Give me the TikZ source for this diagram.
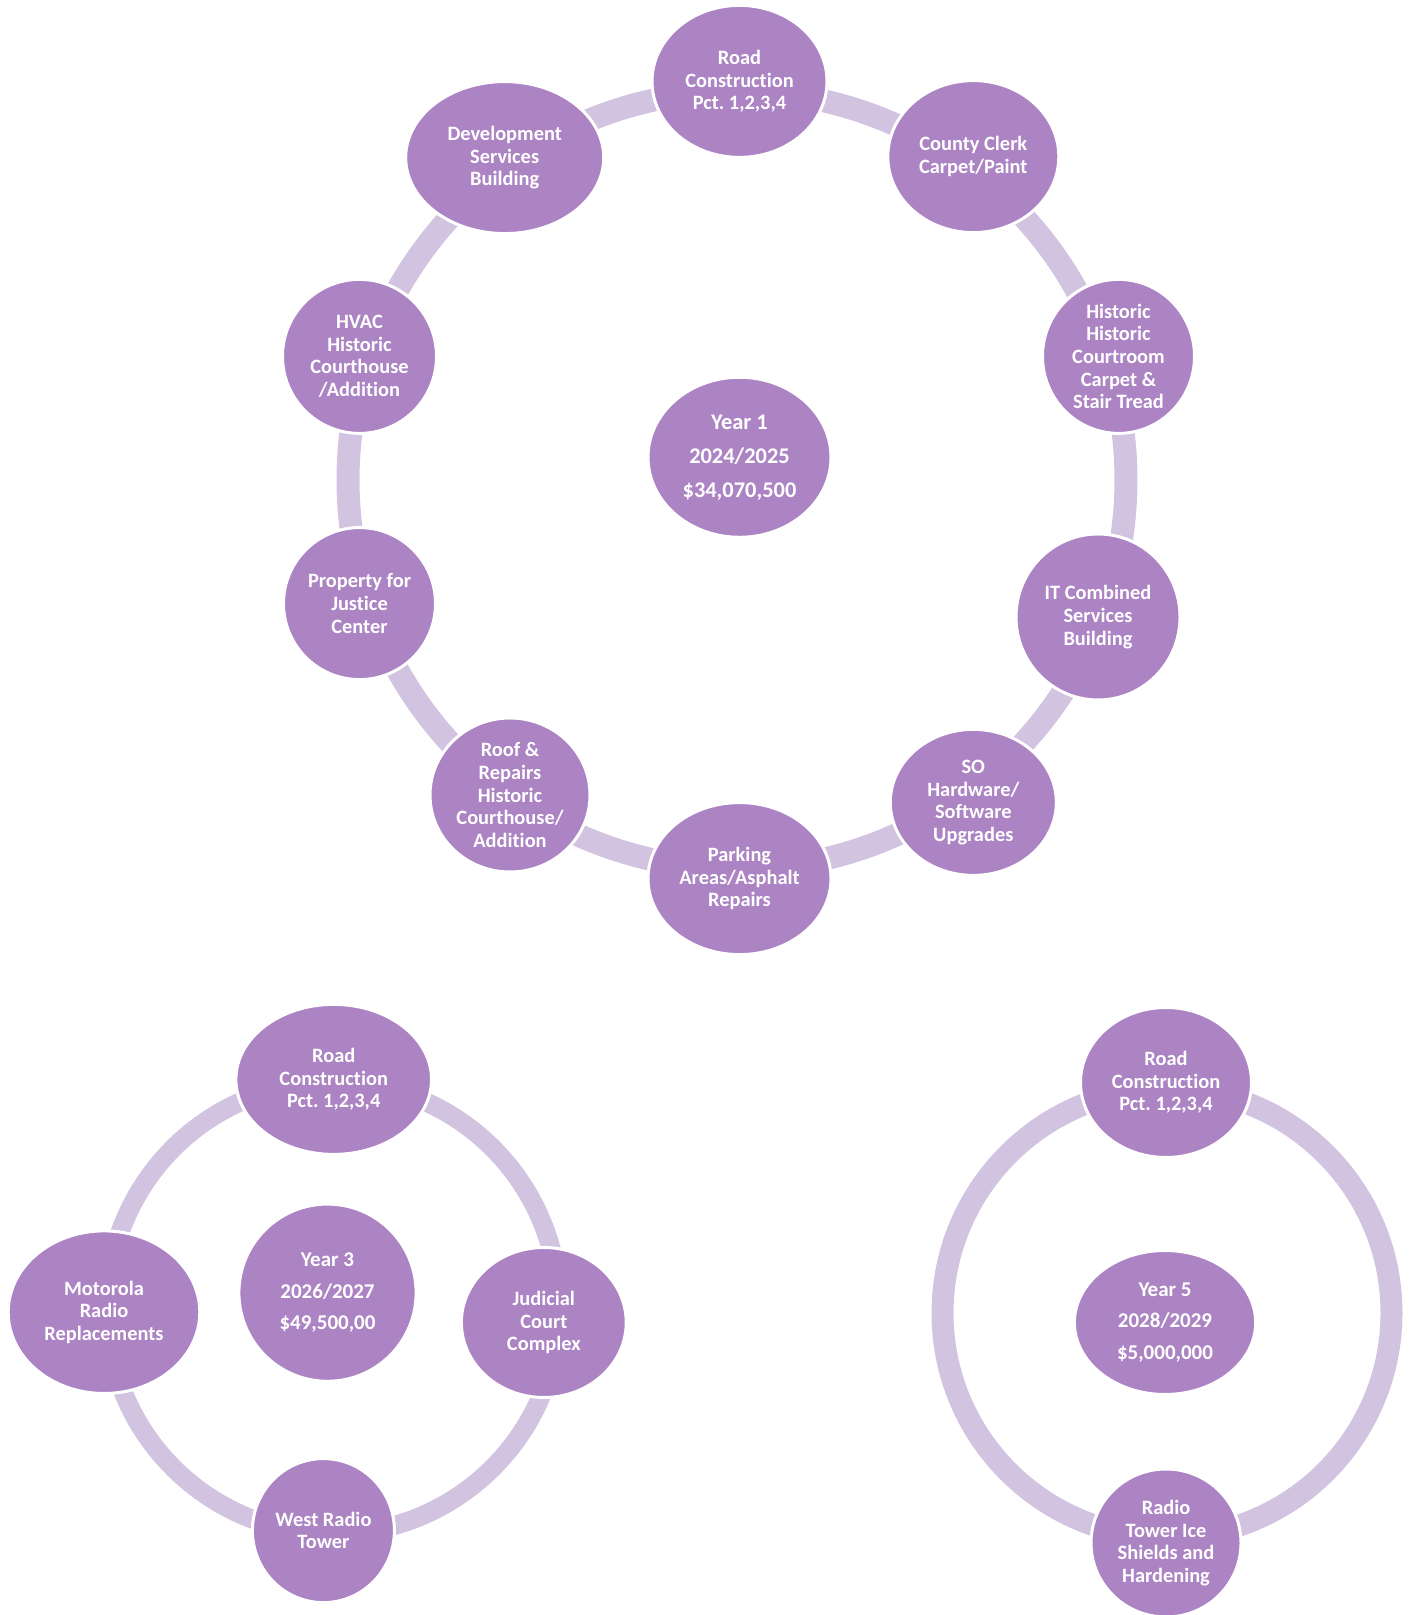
\documentclass[tikz,border=0pt]{standalone}
\usepackage{fontspec}
\setmainfont{Carlito}[Ligatures=NoCommon]
\usetikzlibrary{shapes.geometric,calc,backgrounds}
\definecolor{bubfill}{HTML}{AC84C4}
\definecolor{ringcol}{HTML}{D2C3E0}
\frenchspacing
\newcommand{\ringarc}[5]{%
  \draw[#1] let \p0=(#2), \p1=(#4), \p2=(#5),
    \n1={atan2(\y1-\y0,\x1-\x0)},
    \n2={atan2(\y2-\y0,\x2-\x0)},
    \n3={mod(\n1-\n2+720,360)} in
    ([shift={(\x0,\y0)}]\n1:#3) arc[start angle=\n1, delta angle=-\n3, radius=#3];%
}
\tikzset{
  bub/.style={ellipse, fill=bubfill, draw=white, line width=1.5pt, inner sep=0pt,
    text=white, align=center, font=\bfseries\frenchspacing\fontsize{10.2pt}{11.3pt}\selectfont},
  hubA/.style={bub, font=\bfseries\fontsize{11.2pt}{17pt}\selectfont},
  hubB/.style={bub, font=\bfseries\fontsize{10.5pt}{15.7pt}\selectfont},
  ringA/.style={draw=ringcol, line width=11.5pt},
  ringB/.style={draw=ringcol, line width=9.5pt},
  ringC/.style={draw=ringcol, line width=11pt},
}
\begin{document}
\begin{tikzpicture}[x=0.5pt,y=0.5pt]
\useasboundingbox (0,0) rectangle (1411,1615);
% ---------- Year 1 ----------
\coordinate (o1) at (737,1135);
\node[bub, minimum width=87.5pt, minimum height=76pt] (r1) at (739.5,1533.6) {Road\\Construction\\Pct. 1,2,3,4};
\node[bub, minimum width=85.5pt, minimum height=76pt] (c1) at (973.3,1458.4) {County Clerk\\Carpet/Paint};
\node[bub, minimum width=76pt, minimum height=77pt] (h1) at (1118.5,1258.6) {Historic\\Historic\\Courtroom\\Carpet \&\\Stair Tread};
\node[bub, minimum width=82pt, minimum height=83pt] (i1) at (1098,998) {IT Combined\\Services\\Building};
\node[bub, minimum width=83pt, minimum height=73pt] (s1) at (973.3,812.6) {SO\\Hardware/\\Software\\Upgrades};
\node[bub, minimum width=91.5pt, minimum height=76pt] (p1) at (739.5,736.4) {Parking\\Areas/Asphalt\\Repairs};
\node[bub, minimum width=80pt, minimum height=77pt] (f1) at (510,820) {Roof \&\\Repairs\\Historic\\Courthouse/\\Addition};
\node[bub, minimum width=76pt, minimum height=76pt] (j1) at (359.5,1011.4) {Property for\\Justice\\Center};
\node[bub, minimum width=77pt, minimum height=77pt] (v1) at (359.5,1258.6) {HVAC\\Historic\\Courthouse\\/Addition};
\node[bub, minimum width=99pt, minimum height=76pt] (d1) at (504.7,1457.4) {Development\\Services\\Building};
\node[hubA, minimum width=91.5pt, minimum height=80pt] (y1) at (739.5,1157.7) {Year 1\\2024/2025\\\$34,070,500};
% ---------- Year 3 ----------
\coordinate (o3) at (333,307);
\node[bub, minimum width=97.8pt, minimum height=75pt] (r3) at (333.7,535.6) {Road\\Construction\\Pct. 1,2,3,4};
\node[bub, minimum width=95.8pt, minimum height=81.3pt] (m3) at (104,302.8) {Motorola\\Radio\\Replacements};
\node[hubB, minimum width=88.6pt, minimum height=88.6pt] (y3) at (327.5,322.3) {Year 3\\2026/2027\\\$49,500,00};
\node[bub, minimum width=82.4pt, minimum height=75pt] (j3) at (543.8,292.5) {Judicial\\Court\\Complex};
\node[bub, minimum width=71pt, minimum height=72pt] (w3) at (323.4,84.4) {West Radio\\Tower};
% ---------- Year 5 ----------
\coordinate (o5) at (1167,302);
\node[bub, minimum width=85.5pt, minimum height=75pt] (r5) at (1166,532.5) {Road\\Construction\\Pct. 1,2,3,4};
\node[hubB, minimum width=90.6pt, minimum height=72pt] (y5) at (1165,292.5) {Year 5\\2028/2029\\\$5,000,000};
\node[bub, minimum width=75pt, minimum height=74pt] (t5) at (1166,72) {Radio\\Tower Ice\\Shields and\\Hardening};
% ---------- rings ----------
\begin{pgfonlayer}{background}
\ringarc{ringA}{o1}{194.5pt}{r1}{c1}
\ringarc{ringA}{o1}{194.5pt}{c1}{h1}
\ringarc{ringA}{o1}{194.5pt}{h1}{i1}
\ringarc{ringA}{o1}{194.5pt}{i1}{s1}
\ringarc{ringA}{o1}{194.5pt}{s1}{p1}
\ringarc{ringA}{o1}{194.5pt}{p1}{f1}
\ringarc{ringA}{o1}{194.5pt}{f1}{j1}
\ringarc{ringA}{o1}{194.5pt}{j1}{v1}
\ringarc{ringA}{o1}{194.5pt}{v1}{d1}
\ringarc{ringA}{o1}{194.5pt}{d1}{r1}
\ringarc{ringB}{o3}{113pt}{r3}{j3}
\ringarc{ringB}{o3}{113pt}{j3}{w3}
\ringarc{ringB}{o3}{113pt}{w3}{m3}
\ringarc{ringB}{o3}{113pt}{m3}{r3}
\ringarc{ringC}{o5}{112.25pt}{r5}{t5}
\ringarc{ringC}{o5}{112.25pt}{t5}{r5}
\end{pgfonlayer}
\end{tikzpicture}
\end{document}
